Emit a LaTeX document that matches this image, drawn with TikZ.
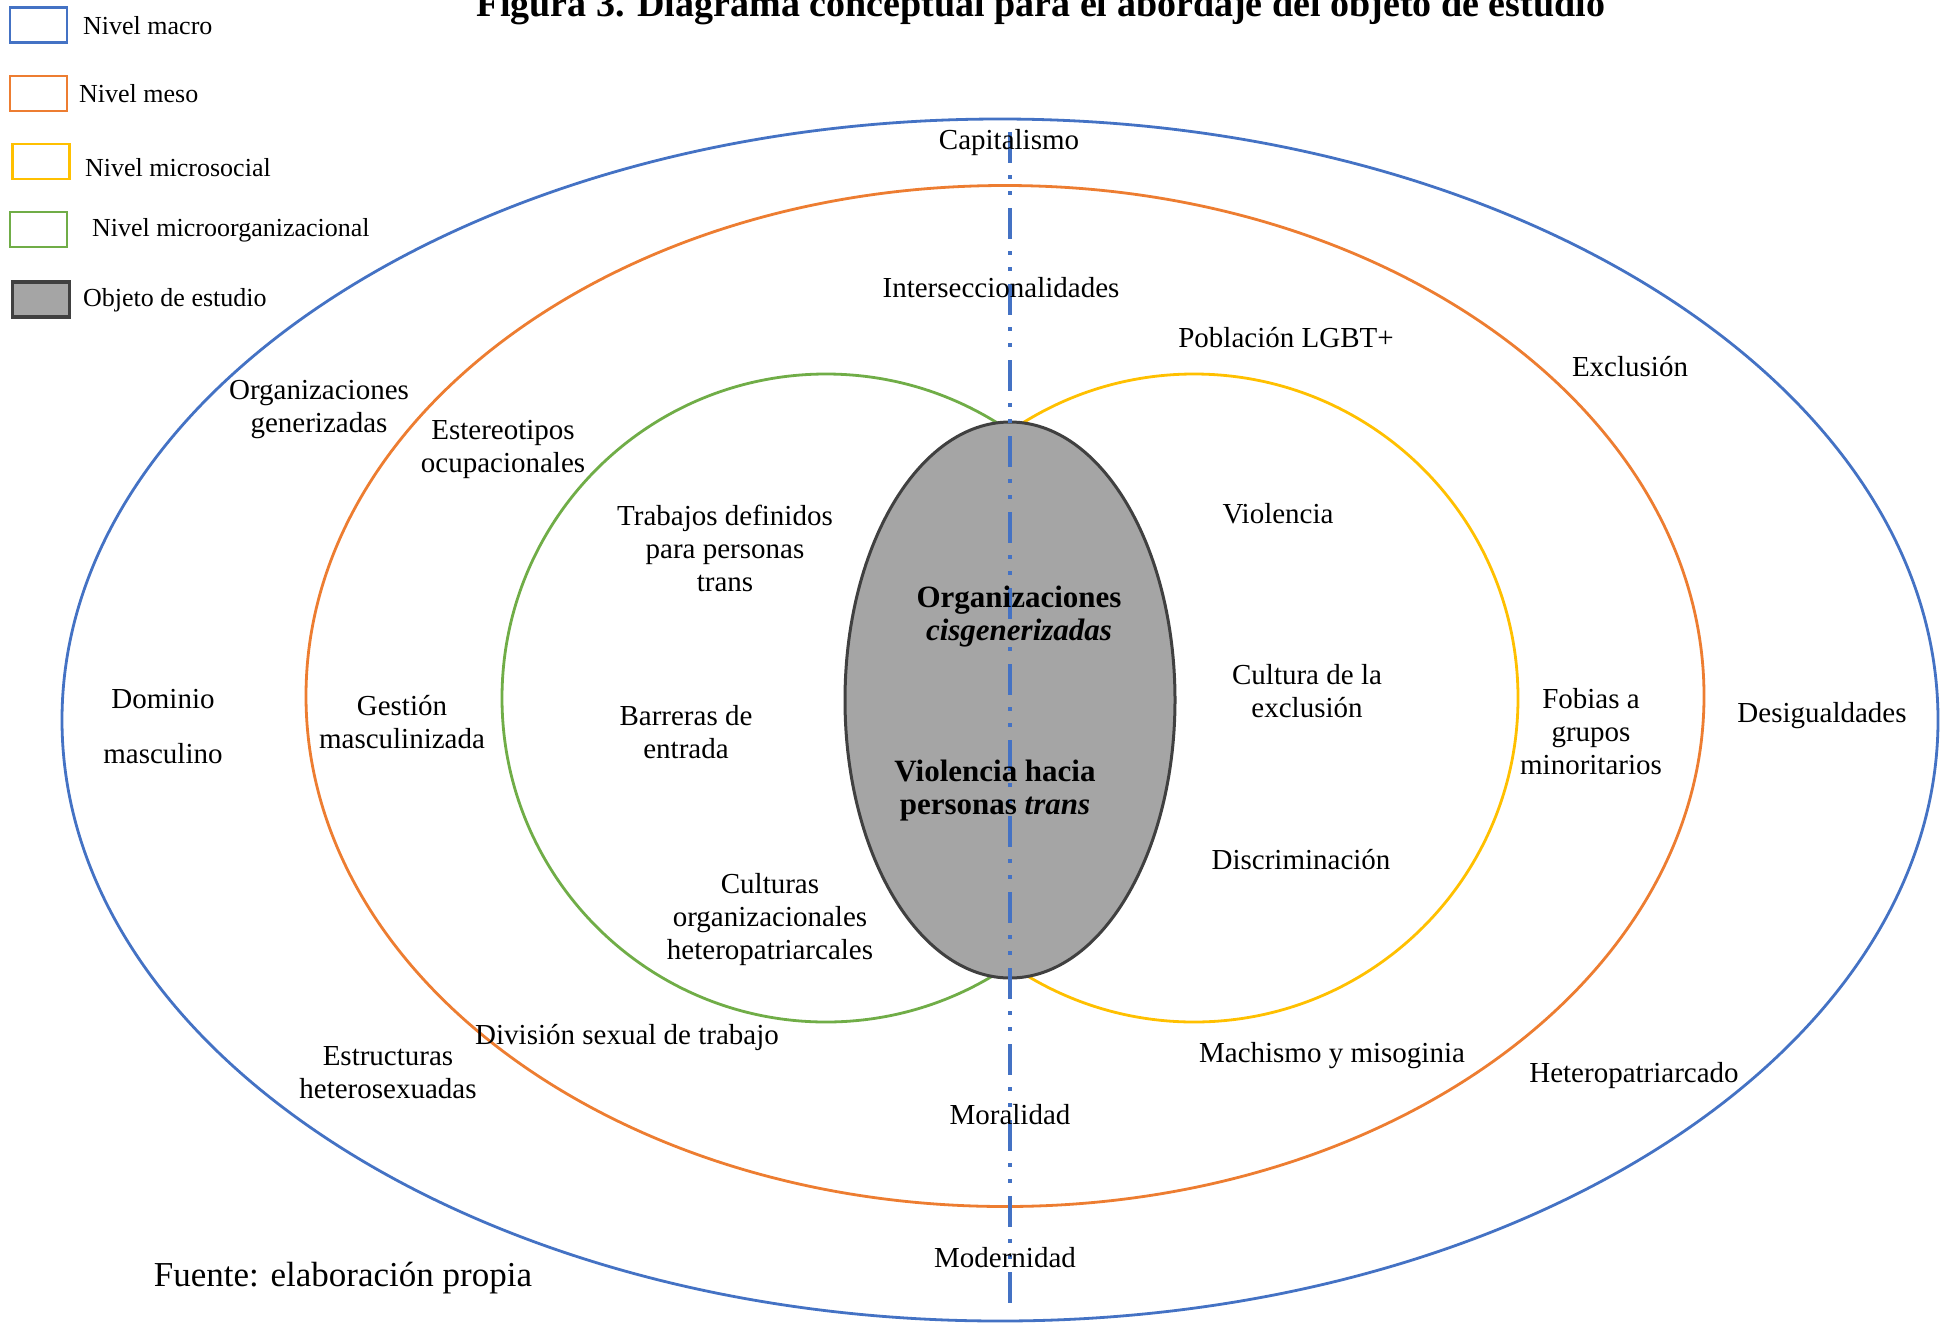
\documentclass[tikz,border=0pt]{standalone}
\usepackage{graphicx}
\usepackage{fontspec}
\setmainfont{Liberation Serif}
\usetikzlibrary{shapes.geometric}
\definecolor{cmacro}{HTML}{4472C4}
\definecolor{cmeso}{HTML}{ED7D31}
\definecolor{cmicro}{HTML}{FFC000}
\definecolor{corg}{HTML}{70AD47}
\definecolor{cobj}{HTML}{A5A5A5}
\definecolor{cobjline}{HTML}{404040}
\begin{document}
\begin{tikzpicture}[x=1pt,y=-1pt,
  ring/.style={ellipse, draw, line width=2.8pt, inner sep=0pt, outer sep=0pt},
  lbl/.style={inner sep=0pt, align=center, yshift=-3pt, font=\fontsize{29}{33}\selectfont},
  boldlbl/.style={inner sep=0pt, align=center, yshift=-3pt, font=\fontsize{31}{33}\selectfont\bfseries},
  legbox/.style={draw, line width=2.6pt, minimum width=57pt, minimum height=35pt, inner sep=0pt},
  legtxt/.style={anchor=west, inner sep=0pt, font=\fontsize{26}{30}\selectfont},
  axisline/.style={cmacro, line width=4pt,
    dash pattern=on 31pt off 12pt on 4pt off 12pt on 4pt off 13pt},
]
\clip (0,0) rectangle (1948,1323);
\fill[white] (0,0) rectangle (1948,1323);

% title, partly cut by the top edge
\node[anchor=base, inner sep=0pt] (title) at (1041,16)
  {\resizebox{1128pt}{!}{\fontsize{33}{36}\selectfont\bfseries Figura 3. Diagrama conceptual para el abordaje del objeto de estudio}};

% levels
\node[ring, cmacro, minimum width=1876pt, minimum height=1202pt] (macro) at (1000,720) {};
\node[ring, cmeso, minimum width=1398pt, minimum height=1021pt] (meso) at (1005,696) {};
\node[ring, corg, minimum width=648pt, minimum height=648pt] (microorg) at (826,698) {};
\node[ring, cmicro, minimum width=648pt, minimum height=648pt] (microsoc) at (1194,698) {};
\node[ellipse, draw=cobjline, fill=cobj, line width=3pt, inner sep=0pt,
      minimum width=330pt, minimum height=556pt] (objeto) at (1010,700) {};

% vertical axis
\coordinate (axtop) at (1010,132);
\coordinate (axbot) at (1010,1303);
\draw[axisline] (axtop) -- (axbot);

% legend
\node[legbox, draw=cmacro] (lb1) at (38.5,25) {};
\node[legtxt] (lt1) at (83,26) {Nivel macro};
\node[legbox, draw=cmeso] (lb2) at (38.5,93.5) {};
\node[legtxt] (lt2) at (79,94) {Nivel meso};
\node[legbox, draw=cmicro] (lb3) at (41,161.5) {};
\node[legtxt] (lt3) at (85,168) {Nivel microsocial};
\node[legbox, draw=corg] (lb4) at (38.5,229.5) {};
\node[legtxt] (lt4) at (92,230) {Nivel microorganizacional};
\node[legbox, draw=cobjline, fill=cobj, line width=3.4pt] (lb5) at (41,299.5) {};
\node[legtxt] (lt5) at (83,300) {Objeto de estudio};

% macro level
\node[lbl] (capital) at (1009,140) {Capitalismo};
\node[lbl] (exclusion) at (1630,364) {Exclusión};
\node[lbl] (orggen) at (319,407) {Organizaciones\\generizadas};
\node[lbl] (dominio) at (163,724) {Dominio\\[22pt]masculino};
\node[lbl] (desig) at (1822,713) {Desigualdades};
\node[lbl] (estruct) at (388,1070) {Estructuras\\heterosexuadas};
\node[lbl] (heteropat) at (1634,1073) {Heteropatriarcado};
\node[lbl] (modern) at (1005,1255) {Modernidad};

% meso level
\node[lbl] (intersec) at (1001,285) {Interseccionalidades};
\node[lbl] (estereo) at (503,446) {Estereotipos\\ocupacionales};
\node[lbl] (gestion) at (402,719) {Gestión\\masculinizada};
\node[lbl] (fobias) at (1591,729) {Fobias a\\grupos\\minoritarios};
\node[lbl] (division) at (627,1034) {División sexual de trabajo};
\node[lbl] (machismo) at (1332,1053) {Machismo y misoginia};
\node[lbl] (moral) at (1010,1112) {Moralidad};

% micro levels
\node[lbl] (lgbt) at (1286,335) {Población LGBT+};
\node[lbl] (trabajos) at (725,545) {Trabajos definidos\\para personas\\trans};
\node[lbl] (violencia) at (1278,511) {Violencia};
\node[lbl] (cultexcl) at (1307,688) {Cultura de la\\exclusión};
\node[lbl] (barreras) at (686,729) {Barreras de\\entrada};
\node[lbl] (discrim) at (1301,857) {Discriminación};
\node[lbl] (culturas) at (770,917) {Culturas\\organizacionales\\heteropatriarcales};

% object of study
\node[boldlbl] (orgcis) at (1019,614) {Organizaciones\\\textit{cisgenerizadas}};
\node[boldlbl] (violtrans) at (995,788) {Violencia hacia\\personas \textit{trans}};

% source
\node[lbl, font=\fontsize{35}{40}\selectfont] (fuente) at (343,1275) {Fuente: elaboración propia};
\end{tikzpicture}
\end{document}
